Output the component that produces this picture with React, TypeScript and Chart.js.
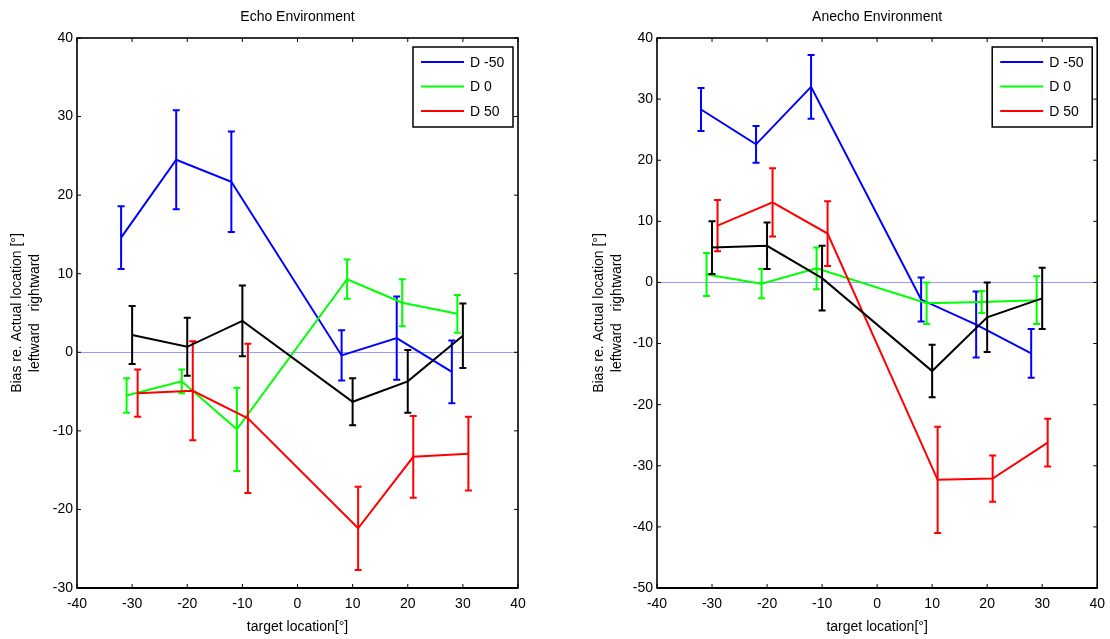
import React, { useEffect, useRef } from 'react';
import { Chart, registerables } from 'chart.js';

Chart.register(...registerables);

// Target positions (deg) for each condition; conditions are slightly staggered.
const xDm50 = [-32, -22, -12, 8, 18, 28];
const xD0 = [-31, -21, -11, 9, 19, 29];
const xD50 = [-29, -19, -9, 11, 21, 31];
const xAll = [-30, -20, -10, 10, 20, 30];

// Echo environment: mean bias and error half-width
const echoDm50 = [14.6, 24.5, 21.7, -0.4, 1.8, -2.5];
const echoDm50Err = [4.0, 6.3, 6.4, 3.2, 5.3, 4.0];
const echoD0 = [-5.5, -3.7, -9.8, 9.3, 6.3, 4.9];
const echoD0Err = [2.2, 1.5, 5.3, 2.5, 3.0, 2.4];
const echoD50 = [-5.2, -4.9, -8.4, -22.4, -13.3, -12.9];
const echoD50Err = [3.0, 6.3, 9.5, 5.3, 5.2, 4.7];
const echoAll = [2.2, 0.7, 4.0, -6.3, -3.7, 2.1];
const echoAllErr = [3.7, 3.7, 4.5, 3.0, 4.0, 4.1];

// Anechoic environment: mean bias and error half-width
const anechoDm50 = [28.3, 22.6, 32.0, -2.8, -6.9, -11.6];
const anechoDm50Err = [3.5, 3.0, 5.2, 3.6, 5.4, 4.0];
const anechoD0 = [1.3, -0.2, 2.3, -3.4, -3.2, -2.9];
const anechoD0Err = [3.5, 2.4, 3.4, 3.4, 1.8, 3.9];
const anechoD50 = [9.3, 13.1, 8.0, -32.3, -32.1, -26.2];
const anechoD50Err = [4.2, 5.6, 5.3, 8.7, 3.8, 3.9];
const anechoAll = [5.7, 6.0, 0.7, -14.5, -5.7, -2.6];
const anechoAllErr = [4.3, 3.8, 5.3, 4.3, 5.7, 5.0];

const seriesLabels = ['D -50', 'D 0', 'D 50', 'All'];
const seriesColors = ['#0000ff', '#00ff00', '#ff0000', '#000000'];

const FONT = '"Liberation Sans", Arial, Helvetica, sans-serif';
const CANVAS_W = 555;
const CANVAS_H = 639;

Chart.defaults.font.family = FONT;
Chart.defaults.color = '#000';

const errorBarPlugin = {
  id: 'errorBars',
  afterDatasetDraw(chart: any, args: any) {
    const ds = chart.data.datasets[args.index];
    if (!ds.errors) return;
    const y = chart.scales.y;
    const ctx = chart.ctx;
    ctx.save();
    ctx.strokeStyle = ds.borderColor;
    ctx.lineWidth = 2;
    args.meta.data.forEach((pt: any, i: number) => {
      const v = ds.data[i].y;
      const e = ds.errors[i];
      const top = y.getPixelForValue(v + e);
      const bot = y.getPixelForValue(v - e);
      ctx.beginPath();
      ctx.moveTo(pt.x, top);
      ctx.lineTo(pt.x, bot);
      ctx.moveTo(pt.x - 3.5, top);
      ctx.lineTo(pt.x + 3.5, top);
      ctx.moveTo(pt.x - 3.5, bot);
      ctx.lineTo(pt.x + 3.5, bot);
      ctx.stroke();
    });
    ctx.restore();
  },
};

const zeroLinePlugin = {
  id: 'zeroLine',
  beforeDatasetsDraw(chart: any) {
    const { ctx, chartArea } = chart;
    const py = Math.round(chart.scales.y.getPixelForValue(0)) + 0.5;
    ctx.save();
    ctx.strokeStyle = 'rgba(110,110,255,0.7)';
    ctx.lineWidth = 1;
    ctx.beginPath();
    ctx.moveTo(chartArea.left, py);
    ctx.lineTo(chartArea.right, py);
    ctx.stroke();
    ctx.restore();
  },
};

const boxAxesPlugin = {
  id: 'boxAxes',
  afterDraw(chart: any) {
    const { ctx, chartArea } = chart;
    const { left, right, top, bottom } = chartArea;
    const xs = chart.scales.x;
    const ys = chart.scales.y;
    const len = 4;
    ctx.save();
    ctx.strokeStyle = '#000';
    ctx.lineWidth = 1;
    ctx.beginPath();
    xs.ticks.forEach((t: any) => {
      const px = xs.getPixelForValue(t.value);
      ctx.moveTo(px, bottom);
      ctx.lineTo(px, bottom - len);
      ctx.moveTo(px, top);
      ctx.lineTo(px, top + len);
    });
    ys.ticks.forEach((t: any) => {
      const py = ys.getPixelForValue(t.value);
      ctx.moveTo(left, py);
      ctx.lineTo(left + len, py);
      ctx.moveTo(right, py);
      ctx.lineTo(right - len, py);
    });
    ctx.stroke();
    ctx.lineWidth = 1.6;
    ctx.strokeRect(left, top, right - left, bottom - top);
    ctx.lineWidth = 2;
    ctx.beginPath();
    ctx.moveTo(left, bottom);
    ctx.lineTo(right, bottom);
    ctx.stroke();
    ctx.restore();
  },
};

const boxLegendPlugin = {
  id: 'boxLegend',
  afterDraw(chart: any) {
    const { ctx, chartArea } = chart;
    const w = 100;
    const h = 80;
    const x0 = chartArea.right - 5 - w;
    const y0 = chartArea.top + 9;
    ctx.save();
    ctx.fillStyle = '#fff';
    ctx.fillRect(x0, y0, w, h);
    ctx.strokeStyle = '#000';
    ctx.lineWidth = 1.5;
    ctx.strokeRect(x0, y0, w, h);
    ctx.font = `14px ${FONT}`;
    ctx.textBaseline = 'middle';
    ctx.textAlign = 'left';
    chart.data.datasets.slice(0, 3).forEach((ds: any, i: number) => {
      const cy = y0 + 15 + i * 24.5;
      ctx.strokeStyle = ds.borderColor;
      ctx.lineWidth = 2;
      ctx.beginPath();
      ctx.moveTo(x0 + 8, cy);
      ctx.lineTo(x0 + 51, cy);
      ctx.stroke();
      ctx.fillStyle = '#000';
      ctx.fillText(ds.label, x0 + 57, cy + 1);
    });
    ctx.restore();
  },
};

type Panel = {
  title: string;
  yMin: number;
  yMax: number;
  padLeft: number;
  axisWidth: number;
  padRight: number;
  values: number[][];
  errors: number[][];
};

const xPositions = [xDm50, xD0, xD50, xAll];

function buildConfig(p: Panel): any {
  const datasets = p.values.map((vals, s) => ({
    label: seriesLabels[s],
    data: vals.map((v, i) => ({ x: xPositions[s][i], y: v })),
    errors: p.errors[s],
    borderColor: seriesColors[s],
    backgroundColor: seriesColors[s],
    borderWidth: 2,
    pointRadius: 0,
    tension: 0,
    fill: false,
    order: 4 - s,
  }));
  return {
    type: 'line',
    data: { datasets },
    plugins: [zeroLinePlugin, errorBarPlugin, boxAxesPlugin, boxLegendPlugin],
    options: {
      animation: false,
      responsive: true,
      maintainAspectRatio: false,
      layout: { padding: { left: p.padLeft, right: p.padRight, top: 0, bottom: 0 } },
      plugins: {
        legend: { display: false },
        tooltip: { enabled: false },
        title: {
          display: true,
          text: p.title,
          fullSize: false,
          color: '#000',
          font: { size: 14, weight: 'normal', lineHeight: 1.2 },
          padding: { top: 8.6, bottom: 12.6 },
        },
      },
      scales: {
        x: {
          type: 'linear',
          min: -40,
          max: 40,
          grid: { display: false, drawTicks: true, tickLength: 3 },
          border: { display: false },
          ticks: {
            stepSize: 10,
            autoSkip: false,
            maxRotation: 0,
            padding: 5,
            color: '#000',
            font: { size: 14 },
            callback: (v: number) => String(v),
          },
          title: {
            display: true,
            text: 'target location[°]',
            color: '#000',
            font: { size: 14, lineHeight: 1.2 },
            padding: { top: 0, bottom: 3.6 },
          },
          afterFit: (scale: any) => {
            scale.height = 51;
          },
        },
        y: {
          type: 'linear',
          min: p.yMin,
          max: p.yMax,
          grid: { display: false, drawTicks: false },
          border: { display: false },
          ticks: {
            stepSize: 10,
            autoSkip: false,
            padding: 4,
            color: '#000',
            font: { size: 14 },
            callback: (v: number) => String(v),
          },
          title: {
            display: true,
            text: ['Bias re. Actual location [°]', 'leftward   rightward'],
            color: '#000',
            font: { size: 14, lineHeight: 1.25 },
            padding: { top: 8.75, bottom: 0 },
          },
          afterFit: (scale: any) => {
            scale.width = p.axisWidth;
          },
        },
      },
    },
  };
}

const echoPanel: Panel = {
  title: 'Echo Environment',
  yMin: -30,
  yMax: 40,
  padLeft: 0,
  axisWidth: 77,
  padRight: CANVAS_W - 518,
  values: [echoDm50, echoD0, echoD50, echoAll],
  errors: [echoDm50Err, echoD0Err, echoD50Err, echoAllErr],
};

const anechoPanel: Panel = {
  title: 'Anecho Environment',
  yMin: -50,
  yMax: 40,
  padLeft: 27,
  axisWidth: 75,
  padRight: CANVAS_W - 543,
  values: [anechoDm50, anechoD0, anechoD50, anechoAll],
  errors: [anechoDm50Err, anechoD0Err, anechoD50Err, anechoAllErr],
};

function PanelChart({ panel }: { panel: Panel }) {
  const ref = useRef<HTMLCanvasElement | null>(null);
  useEffect(() => {
    if (!ref.current) return;
    const chart = new Chart(ref.current, buildConfig(panel));
    return () => chart.destroy();
  }, [panel]);
  return (
    <div style={{ position: 'relative', width: CANVAS_W, height: CANVAS_H }}>
      <canvas ref={ref} />
    </div>
  );
}

export default function App() {
  return (
    <div
      style={{
        position: 'absolute',
        left: 0,
        top: 0,
        width: CANVAS_W * 2,
        height: CANVAS_H,
        display: 'flex',
        background: '#fff',
      }}
    >
      <PanelChart panel={echoPanel} />
      <PanelChart panel={anechoPanel} />
    </div>
  );
}
